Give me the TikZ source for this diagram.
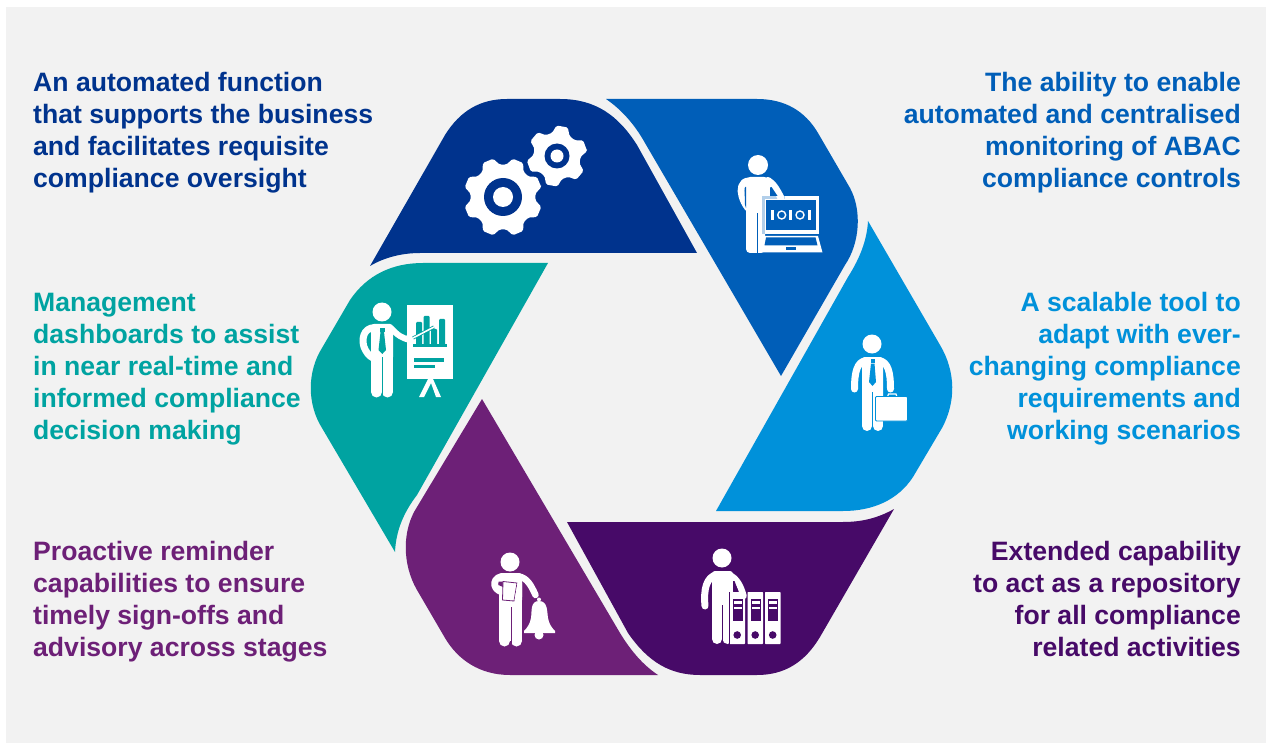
\documentclass[tikz,border=0pt]{standalone}
\usepackage{fontspec}
\setmainfont{Liberation Sans}
\definecolor{bgc}{HTML}{F2F2F2}
\definecolor{cA}{HTML}{00338D}
\definecolor{cB}{HTML}{005EB8}
\definecolor{cC}{HTML}{0091DA}
\definecolor{cD}{HTML}{470A68}
\definecolor{cE}{HTML}{6D2077}
\definecolor{cF}{HTML}{00A3A1}
\tikzset{
  lbl/.style={inner sep=0pt,font=\fontsize{26.6}{32}\selectfont\bfseries},
  lleft/.style={lbl,align=left,anchor=north west},
  lright/.style={lbl,align=right,anchor=north east},
  arm/.style={draw=white,line width=7pt,line cap=round,line join=round},
}
\newcommand{\fs}{\rule{0pt}{20pt}}
% gear: cx cy outer root rotation ringR innerR colour teeth
\newcommand{\mygear}[9]{%
  \pgfmathsetmacro{\gp}{360/#9}
  \pgfmathsetmacro{\gt}{0.18*\gp}
  \pgfmathsetmacro{\gb}{0.37*\gp}
  \fill[white,rounded corners=1.6pt]
    ({#1+#3*cos(#5-\gt)},{#2-#3*sin(#5-\gt)})
    \foreach \k in {1,...,#9}{
      -- ({#1+#3*cos(#5+\k*\gp-\gp-\gt)},{#2-#3*sin(#5+\k*\gp-\gp-\gt)})
      -- ({#1+#3*cos(#5+\k*\gp-\gp+\gt)},{#2-#3*sin(#5+\k*\gp-\gp+\gt)})
      -- ({#1+#4*cos(#5+\k*\gp-\gp+\gb)},{#2-#4*sin(#5+\k*\gp-\gp+\gb)})
      -- ({#1+#4*cos(#5+\k*\gp-\gp/2)},{#2-#4*sin(#5+\k*\gp-\gp/2)})
      -- ({#1+#4*cos(#5+\k*\gp-\gb)},{#2-#4*sin(#5+\k*\gp-\gb)})
    } -- cycle;
  \fill[#8] (#1,#2) circle (#6);
  \fill[white] (#1,#2) circle (#7);
}
\begin{document}
\begin{tikzpicture}[x=1pt,y=-1pt]
\useasboundingbox (0,0) rectangle (1269,743);
\fill[white] (0,0) rectangle (1269,743);
\fill[bgc] (6,7) rectangle (1266,743);

% segments
\fill[cA] (370,266) .. controls (385,257) and (403,253) .. (420,253) -- (697,253) -- (637,145)
  .. controls (618,115) and (595,99) .. (560,99) -- (507,99) .. controls (480,99) and (460,111) .. (445,135) -- cycle;
\fill[cB] (606,99) -- (757,99) .. controls (785,99) and (805,111) .. (818,133) -- (850,188)
  .. controls (862,210) and (860,243) .. (845,265) -- (781,376) -- (645,143) .. controls (635,125) and (622,110) .. (606,99) -- cycle;
\fill[cC] (868,221) -- (940,345) .. controls (956,372) and (956,402) .. (942,428) -- (913,477)
  .. controls (898,500) and (873,511) .. (843,511) -- (716,511) -- (848,277) .. controls (860,258) and (867,240) .. (868,221) -- cycle;
\fill[cD] (894,509) -- (820,637) .. controls (805,662) and (785,675) .. (757,675) -- (700,675)
  .. controls (670,675) and (648,662) .. (628,633) -- (567,522) -- (843,522) .. controls (862,522) and (878,518) .. (894,509) -- cycle;
\fill[cE] (658,675) -- (510,675) .. controls (480,675) and (458,660) .. (445,638) -- (417,590)
  .. controls (402,564) and (402,530) .. (417,507) -- (482,399) -- (620,633) .. controls (631,651) and (643,665) .. (658,675) -- cycle;
\fill[cF] (548,263) -- (423,263) .. controls (392,263) and (367,275) .. (350,300) -- (322,348)
  .. controls (307,372) and (307,404) .. (322,428) -- (395,552) .. controls (396,530) and (404,512) .. (417,495) -- cycle;

% gears
\mygear{503}{197}{39.5}{32.5}{22.5}{19}{10}{cA}{8}
\mygear{557}{156}{30.5}{23.5}{20}{12.5}{6.5}{cA}{6}

% person with laptop
\fill[white] (758,165) circle (10);
\draw[arm] (749,181) .. controls (741,181) and (740,190) .. (742,196) .. controls (743,200) and (745,204) .. (748,208);
\fill[white,rounded corners=4pt] (746,177) -- (768,177) -- (771,180) -- (771,200) -- (765,200) -- (765,253) -- (746,253) -- cycle;
\fill[white] (746,213) rectangle (765,247);
\fill[cB] (744.5,188) -- (746,187) -- (746,208) -- (745,205) -- cycle;
\fill[cB] (756.6,213) rectangle (758,254);
\fill[white!70!cB] (762,196) rectangle (785,200);
\fill[white!70!cB] (762,196) rectangle (765,234);
\fill[white] (785,196) rectangle (819,234);
\fill[white] (765,199) rectangle (785,234);
\draw[arm] (768,180.5) .. controls (774,184) and (778,192) .. (781,198);
\fill[cB] (770,187.5) -- (771.5,187) -- (777.5,196) -- (770,196) -- cycle;
\fill[cB] (766,200) rectangle (815.5,230);
\fill[white] (771,210) rectangle (774,220);
\draw[white,line width=1.4pt] (781.7,215) circle (4);
\fill[white] (789,210) rectangle (792,220);
\draw[white,line width=1.4pt] (800,215) circle (4);
\fill[white] (808,210) rectangle (811,220);
\fill[white] (762,236) -- (818,236) -- (822.5,252.5) -- (759.5,252.5) -- cycle;
\fill[cB] (766,237.5) -- (815.5,237.5) -- (817.5,245.5) -- (764.5,245.5) -- cycle;
\fill[cB] (786,247) rectangle (796,250.5);

% person with briefcase
\fill[white] (872,344) circle (9.5);
\draw[arm] (866,360.5) .. controls (857,362) and (854.5,372) .. (854.5,389);
\draw[arm] (879,360.5) .. controls (888,362) and (890.5,372) .. (890.5,389);
\fill[white,rounded corners=3pt] (862,357) rectangle (883,400);
\fill[white] (862,370) rectangle (883,426);
\fill[white] (867,426) circle (5);
\fill[white] (878,426) circle (5);
\fill[cC] (871.8,392) rectangle (873,432);
\fill[cC] (870.5,359) rectangle (875,363);
\fill[cC] (871,363.5) -- (874.5,363.5) -- (876,382) -- (872.5,386) -- (869,382) -- cycle;
\draw[white,line width=1.2pt] (887.5,397) -- (888.5,394) -- (896,394) -- (897,397);
\fill[white,draw=cC,line width=.8pt,rounded corners=1pt] (875.5,396.5) rectangle (907.5,421);

% presenter
\fill[white] (382,312) circle (9.5);
\draw[arm] (375,327.5) .. controls (362,328) and (362,341) .. (364,347) .. controls (366,352) and (369,356) .. (373,358);
\fill[white,rounded corners=3pt] (371,324) rectangle (393,360);
\fill[white] (371,340) rectangle (393,392);
\fill[white] (376.5,392) circle (5.5);
\fill[white] (387.5,392) circle (5.5);
\fill[cF] (381.7,357) rectangle (383,398);
\draw[arm,line width=6pt] (391,328) .. controls (397,335) and (403,339) .. (411,340);
\fill[cF] (380,328) rectangle (384.5,332);
\fill[cF] (380.5,332) -- (384,332) -- (386,350) -- (382.3,354) -- (378.5,350) -- cycle;
\fill[white] (407,305) rectangle (453,379);
\fill[cF,rounded corners=1pt] (416,322) rectangle (422,346);
\fill[cF,rounded corners=1pt] (423.5,316) rectangle (429.5,346);
\fill[cF,rounded corners=1pt] (431,329) rectangle (437,346);
\fill[cF,rounded corners=1pt] (439,319) rectangle (445,346);
\fill[cF] (413,344) rectangle (447,346.5);
\draw[cF,line width=3.2pt] (413,338) -- (434,327);
\draw[white,line width=1.6pt,line cap=round] (413,338) -- (434,327);
\fill[white] (409,337) circle (3);
\fill[cF] (414,358) rectangle (443.5,361.5);
\fill[cF] (414,365) rectangle (435,368);
\fill[white] (428,379) -- (419,397) -- (424,397) -- (431,383) -- (436,397) -- (441,397) -- (433,379) -- cycle;

% person with bell
\fill[white] (510,562) circle (9.5);
\draw[arm] (506,576.5) .. controls (492,575) and (491,590) .. (503,592) -- (508,593);
\fill[white,rounded corners=3pt] (499,573) rectangle (522,600);
\fill[white] (499,590) rectangle (522,641);
\fill[white] (504.5,641) circle (5.5);
\fill[white] (516.5,641) circle (5.5);
\fill[cE] (510.8,607) rectangle (512,647);
\fill[cE] (498.5,581.5) -- (503.5,581.5) -- (503,587) -- (498.5,585) -- cycle;
\fill[white,draw=cE,line width=.8pt] (503,581.5) -- (517,583) -- (514,601) -- (502.5,600) -- cycle;
\fill[white] (517.5,583) -- (522,583) -- (522,600) -- (514.5,600) -- cycle;
\draw[arm,line width=6.5pt] (519,576.5) .. controls (527,578) and (531,585) .. (535.5,595);
\fill[white] (539,599.5) circle (2);
\fill[white] (539,601) .. controls (548,601) and (547,612) .. (548,618) .. controls (549,624) and (552,628) .. (555,631)
  -- (555,633) -- (524,633) -- (524,631) .. controls (527,628) and (530,624) .. (531,618) .. controls (532,612) and (530,601) .. (539,601) -- cycle;
\fill[white] (539,635) circle (4.5);

% person with folders
\fill[white] (722,558) circle (9.5);
\draw[arm] (717,574.5) .. controls (706,577) and (703.5,590) .. (705,606);
\fill[white,rounded corners=3pt] (712,571) rectangle (733,610);
\fill[white] (712,590) rectangle (733,639);
\fill[white] (717,639) circle (5);
\fill[white] (727.5,639) circle (5);
\fill[cD] (721.7,605) rectangle (722.9,646);
\foreach \fx in {729.5,747.5,765}{
  \fill[white,rounded corners=.7pt] (\fx,592) rectangle ++(15.5,52);
  \fill[cD] (\fx+3,599) rectangle ++(10,22);
  \fill[white] (\fx+4,601) rectangle ++(8,3);
  \fill[white] (\fx+4,607) rectangle ++(8,2.4);
  \fill[cD] (\fx+7.7,635) circle (3.8);
}
\fill[cD] (728.6,592) rectangle (729.5,644);
\draw[arm,line width=6.5pt] (729,575) .. controls (737,578) and (741,587) .. (743.5,596);
\fill[cD] (733,581) -- (734.5,581) -- (738.5,591.5) -- (733,591.5) -- cycle;

% texts
\node[lleft,text=cA] (t1) at (33,71) {\fs An automated function\\that supports the business\\and facilitates requisite\\compliance oversight};
\node[lright,text=cB] (t2) at (1241,71) {\fs The ability to enable\\automated and centralised\\monitoring of ABAC\\compliance controls};
\node[lright,text=cC] (t3) at (1241,291) {\fs A scalable tool to\\adapt with ever-\\changing compliance\\requirements and\\working scenarios};
\node[lright,text=cD] (t4) at (1241,540) {\fs Extended capability\\to act as a repository\\for all compliance\\related activities};
\node[lleft,text=cE] (t5) at (33,540) {\fs Proactive reminder\\capabilities to ensure\\timely sign-offs and\\advisory across stages};
\node[lleft,text=cF] (t6) at (33,291) {\fs Management\\dashboards to assist\\in near real-time and\\informed compliance\\decision making};
\end{tikzpicture}
\end{document}
